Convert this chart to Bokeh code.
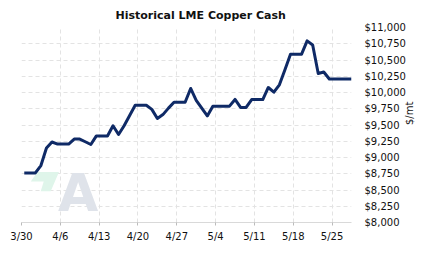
import math
from bokeh.plotting import figure
from bokeh.models import (Range1d, FixedTicker, NumeralTickFormatter, Label, PolyAnnotation)
from bokeh.embed import file_html
from bokeh.resources import INLINE
import pandas as pd

# ---- data (LME copper cash, $/mt) ----
dates = [
    "2024-03-30", "2024-03-31", "2024-04-01", "2024-04-02", "2024-04-03", "2024-04-04",
    "2024-04-05", "2024-04-06", "2024-04-07", "2024-04-08", "2024-04-09", "2024-04-10",
    "2024-04-11", "2024-04-12", "2024-04-13", "2024-04-14", "2024-04-15", "2024-04-16",
    "2024-04-17", "2024-04-18", "2024-04-19", "2024-04-20", "2024-04-21", "2024-04-22",
    "2024-04-23", "2024-04-24", "2024-04-25", "2024-04-26", "2024-04-27", "2024-04-28",
    "2024-04-29", "2024-04-30", "2024-05-01", "2024-05-02", "2024-05-03", "2024-05-04",
    "2024-05-05", "2024-05-06", "2024-05-07", "2024-05-08", "2024-05-09", "2024-05-10",
    "2024-05-11", "2024-05-12", "2024-05-13", "2024-05-14", "2024-05-15", "2024-05-16",
    "2024-05-17", "2024-05-18", "2024-05-19", "2024-05-20", "2024-05-21", "2024-05-22",
    "2024-05-23", "2024-05-24", "2024-05-25", "2024-05-26", "2024-05-27", "2024-05-28",
]
prices = [
    8762, 8762, 8762, 8876, 9146, 9238,
    9207, 9207, 9207, 9284, 9284, 9242,
    9200, 9332, 9332, 9332, 9489, 9354,
    9489, 9645, 9803, 9803, 9803, 9740,
    9600, 9660, 9760, 9850, 9850, 9850,
    10062, 9880, 9760, 9640, 9790, 9790,
    9790, 9790, 9893, 9770, 9770, 9892,
    9892, 9892, 10077, 10005, 10118, 10350,
    10590, 10590, 10590, 10795, 10731, 10292,
    10316, 10207, 10207, 10207, 10207, 10207,
]
tick_dates = ["2024-03-30", "2024-04-06", "2024-04-13", "2024-04-20", "2024-04-27",
              "2024-05-04", "2024-05-11", "2024-05-18", "2024-05-25"]
tick_labels = ["3/30", "4/6", "4/13", "4/20", "4/27", "5/4", "5/11", "5/18", "5/25"]
y_ticks = [8000, 8250, 8500, 8750, 9000, 9250, 9500, 9750, 10000, 10250, 10500, 10750, 11000]
title_text = "Historical LME Copper Cash"
unit_text = "$/mt"

FONT = "DejaVu Sans"

x = pd.to_datetime(dates) + pd.Timedelta(hours=12)
tick_ms = [pd.Timestamp(d).value / 1e6 for d in tick_dates]

p = figure(width=423, height=257, x_axis_type="datetime", y_axis_location="right",
           output_backend="svg", toolbar_location=None,
           x_range=Range1d(pd.Timestamp(dates[0]), x[-1]),
           y_range=Range1d(y_ticks[0], y_ticks[-1]),
           min_border_left=21, min_border_right=71, min_border_top=26, min_border_bottom=35)
p.outline_line_color = None
p.background_fill_color = "white"
p.border_fill_color = "white"

p.title.text = title_text
p.title.align = "left"
p.title.offset = 94
p.title.text_font = FONT
p.title.text_font_size = "11px"
p.title.text_font_style = "bold"
p.title.text_color = "#111111"
p.title.standoff = 12


def px_to_data(px, py):
    # helper for decorative watermark placement (screen px -> data space)
    day = (px - 20.7) / 5.564
    return (pd.Timestamp(dates[0]) + pd.Timedelta(days=day)).value / 1e6, 11000 - (py - 25.8) / 0.06533


# watermark logo (decoration)
green_px = [(36.7, 171.0), (58.3, 171.0), (50, 190.5), (40, 190.5), (43, 180.5), (30, 180.5)]
gpts = [px_to_data(a, b) for a, b in green_px]
p.add_layout(PolyAnnotation(xs=[g[0] for g in gpts], ys=[g[1] for g in gpts],
                            fill_color="#dff5ea", fill_alpha=1, line_color=None,
                            level="underlay"))
ax_, ay_ = px_to_data(77.5, 192)
p.add_layout(Label(x=ax_, y=ay_, text="A",
                   text_font=FONT, text_font_style="bold", text_font_size="52px",
                   text_color="#dfe3ea", text_align="center", text_baseline="alphabetic",
                   level="underlay"))

p.line(x, prices, line_color="#0f2a66", line_width=3, line_join="round")

# x axis
xa = p.xaxis[0]
xa.ticker = FixedTicker(ticks=tick_ms, minor_ticks=[])
xa.major_label_overrides = {t: l for t, l in zip(tick_ms, tick_labels)}
xa.axis_line_color = "#d9d9d9"
xa.major_tick_line_color = "#bbbbbb"
xa.major_tick_out = 3
xa.major_tick_in = 0
xa.minor_tick_line_color = None
xa.major_label_text_font = FONT
xa.major_label_text_font_size = "10px"
xa.major_label_text_color = "#111111"
xa.major_label_standoff = 5

# y axis
ya = p.yaxis[0]
ya.ticker = FixedTicker(ticks=y_ticks, minor_ticks=[])
ya.formatter = NumeralTickFormatter(format="$0,0")
ya.axis_line_color = None
ya.major_tick_line_color = None
ya.major_tick_out = 0
ya.major_tick_in = 0
ya.minor_tick_line_color = None
ya.major_label_text_font = FONT
ya.major_label_text_font_size = "10px"
ya.major_label_text_color = "#111111"
ya.major_label_standoff = 13
ya.axis_label = unit_text
ya.axis_label_text_font = FONT
ya.axis_label_text_font_size = "10px"
ya.axis_label_text_font_style = "normal"
ya.axis_label_text_color = "#111111"
ya.axis_label_standoff = 1
try:
    ya.axis_label_orientation = math.pi / 2
except Exception:
    pass

for g in (p.xgrid[0], p.ygrid[0]):
    g.grid_line_color = "#e3e3e3"
    g.grid_line_dash = "4 3"
    g.grid_line_width = 1

open("out.html", "w").write(file_html(p, INLINE))
